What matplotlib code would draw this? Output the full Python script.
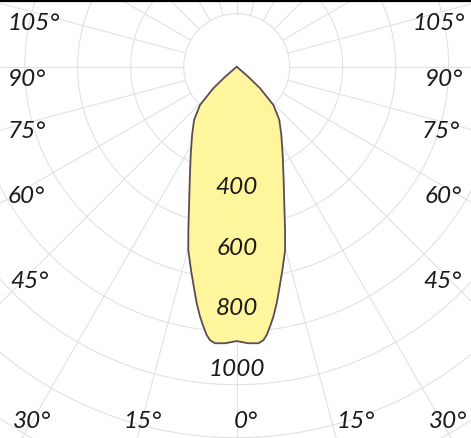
import numpy as np
import matplotlib.pyplot as plt
from matplotlib.lines import Line2D

# half of the symmetric intensity curve (degrees from nadir, cd)
angles = [0, 2.4, 4.5, 5.6, 6.4, 7.3, 8.35, 9.6, 10.75, 12.67, 14.8, 16.5,
          19.0, 22.5, 27.5, 33.2, 38.7, 43.8, 47.3, 49.0, 50.5, 90, 180]
intensity = [906, 914, 916, 907, 891, 865, 834, 792, 750, 688, 626, 562,
             483, 405, 329, 269, 225, 175, 105, 50, 0, 0, 0]

ring_step = 175
ring_values = [ring_step * k for k in range(1, 10)]
spoke_angles = list(range(0, 360, 15))
ring_labels = [400, 600, 800, 1000]

left_labels = ['105°', '90°', '75°', '60°', '45°', '30°']
left_pos = [(8, 24), (8, 80), (8, 132), (8, 197), (10, 282), (13, 421)]
right_labels = ['105°', '90°', '75°', '60°', '45°', '30°']
right_pos = [(465, 24), (463, 80), (460, 132), (462, 197), (462, 282), (467, 421)]
bottom_labels = ['15°', '0°', '15°']
bottom_pos = [(124, 421), (234, 421), (337, 421)]

W, H = 471, 438
cx, cy = 236.7, 66.7          # pole position in pixels (from top)
px_per_cd = 53 / ring_step
rmax = ring_values[-1]
rad_px = rmax * px_per_cd

grid_col = '#e0e0e0'
fill_col = '#fff59c'
edge_col = '#5c4b55'
text_col = '#1a1a1a'
font = dict(family='Lato', style='italic', weight='normal', size=17.5, color=text_col)

fig = plt.figure(figsize=(W / 100, H / 100), dpi=100)
ax = fig.add_axes([(cx - rad_px) / W, (H - cy - rad_px) / H,
                   2 * rad_px / W, 2 * rad_px / H], projection='polar')
ax.set_theta_zero_location('S')
ax.set_ylim(0, rmax)
ax.grid(False)
ax.set_xticks([])
ax.set_yticks([])
ax.spines['polar'].set_visible(False)

circ = np.linspace(0, 2 * np.pi, 721)
for r in ring_values:
    ax.plot(circ, np.full_like(circ, r), color=grid_col, lw=0.75, zorder=1)
for a in spoke_angles:
    t = np.deg2rad(a)
    ax.plot([t, t], [ring_values[0], rmax], color=grid_col, lw=0.75, zorder=1)

th = np.deg2rad(np.array(angles))
rr = np.array(intensity, dtype=float)
theta = np.concatenate([-th[::-1], th[1:]])
r_all = np.concatenate([rr[::-1], rr[1:]])
ax.fill(theta, r_all, facecolor=fill_col, edgecolor=edge_col, lw=1.3, zorder=3)

for v in ring_labels:
    ax.text(0, v, str(v), ha='center', va='center', zorder=5, **font)

for lab, (x, y) in zip(left_labels, left_pos):
    fig.text(x / W, 1 - y / H, lab, ha='left', va='center', **font)
for lab, (x, y) in zip(right_labels, right_pos):
    fig.text(x / W, 1 - y / H, lab, ha='right', va='center', **font)
for lab, (x, y) in zip(bottom_labels, bottom_pos):
    fig.text(x / W, 1 - y / H, lab, ha='left', va='center', **font)

fig.add_artist(Line2D([0, 1], [1 - 1 / H, 1 - 1 / H], transform=fig.transFigure,
                      color='black', lw=1.6))

fig.savefig('out.png', dpi=100)
